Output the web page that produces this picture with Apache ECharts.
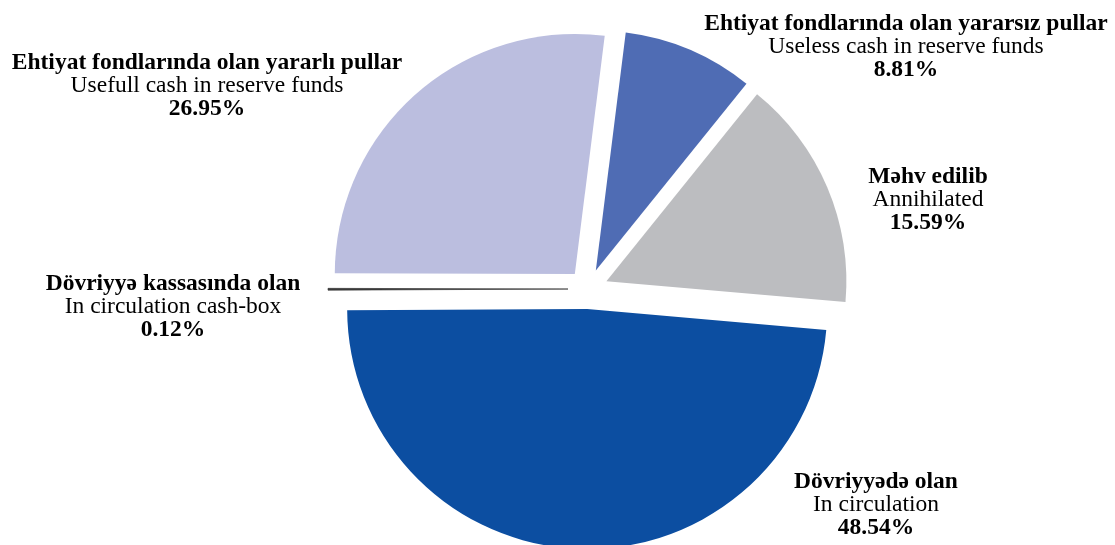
<!DOCTYPE html>
<html>
<head>
<meta charset="utf-8">
<script src="https://cdn.jsdelivr.net/npm/echarts@6/dist/echarts.min.js"></script>
<style>
html,body{margin:0;padding:0;background:#fff;}
#chart{width:1115px;height:545px;}
</style>
</head>
<body>
<div id="chart"></div>
<script>
const namesAz = ['Dövriyyədə olan', 'Dövriyyə kassasında olan', 'Ehtiyat fondlarında olan yararlı pullar', 'Ehtiyat fondlarında olan yararsız pullar', 'Məhv edilib'];
const namesEn = ['In circulation', 'In circulation cash-box', 'Usefull cash in reserve funds', 'Useless cash in reserve funds', 'Annihilated'];
const values = [48.54, 0.12, 26.95, 8.81, 15.59];

const sliceColors = ['#0C4EA1', '#3a3a3a', '#BBBEDF', '#4F6CB4', '#BCBDC0'];
const labelPos = [[876, 505], [173, 307], [207, 86], [906, 47], [928, 200]];

const chart = echarts.init(document.getElementById('chart'), null, {renderer: 'canvas'});
const font = '"Liberation Serif", "Times New Roman", serif';
const richStyles = {
  b: {fontFamily: font, fontWeight: 'bold', fontSize: 23.5, fill: '#000', lineHeight: 23, align: 'center'},
  n: {fontFamily: font, fontWeight: 'normal', fontSize: 23.5, fill: '#000', lineHeight: 23, align: 'center'},
  p: {fontFamily: font, fontWeight: 'bold', fontSize: 23.5, fill: '#000', lineHeight: 23, align: 'center'}
};

chart.setOption({
  animation: false,
  backgroundColor: '#fff',
  graphic: values.map(function (v, i) {
    return {
      type: 'text',
      x: labelPos[i][0],
      y: labelPos[i][1],
      silent: true,
      style: {
        text: '{b|' + namesAz[i] + '}\n{n|' + namesEn[i] + '}\n{p|' + v.toFixed(2) + '%}',
        rich: richStyles,
        align: 'center',
        verticalAlign: 'middle'
      }
    };
  }),
  series: [{
    type: 'pie',
    center: [588, 289],
    radius: 240,
    startAngle: 355,
    clockwise: true,
    selectedMode: 'multiple',
    selectedOffset: 20,
    avoidLabelOverlap: false,
    emphasis: {disabled: true},
    label: {show: false},
    labelLine: {show: false},
    data: values.map(function (v, i) {
      return {
        value: v,
        name: namesAz[i],
        selected: true,
        itemStyle: {
          color: sliceColors[i],
          borderColor: sliceColors[i],
          borderWidth: i === 1 ? 0.7 : 0
        }
      };
    })
  }]
});
</script>
</body>
</html>
